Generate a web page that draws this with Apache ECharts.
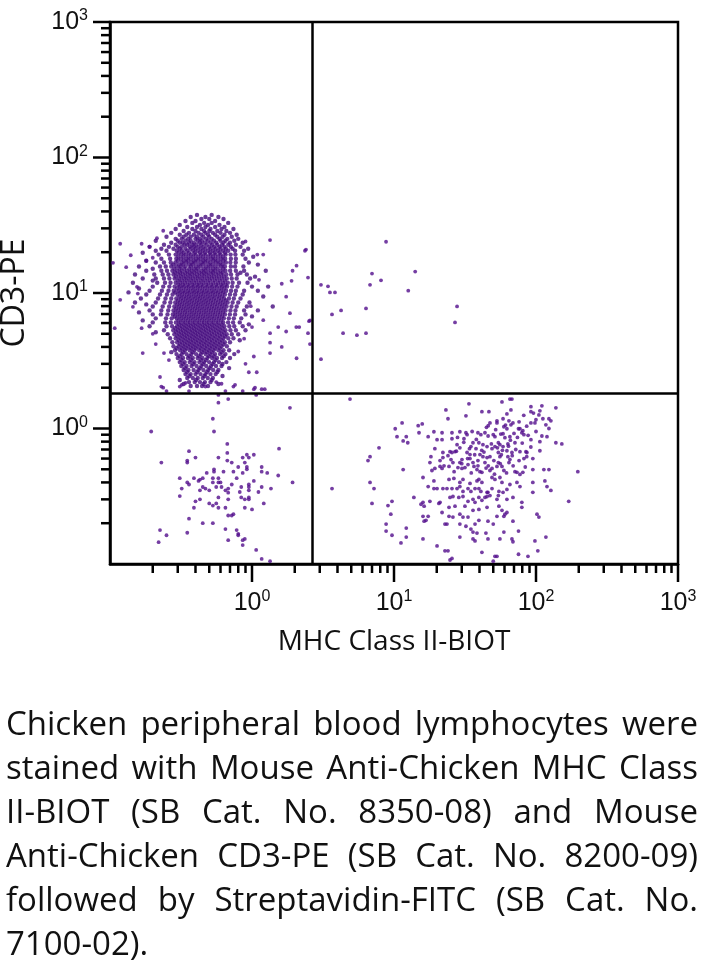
<!DOCTYPE html>
<html>
<head>
<meta charset="utf-8">
<script src="https://cdn.jsdelivr.net/npm/echarts@6/dist/echarts.min.js"></script>
<style>
html,body{margin:0;padding:0;background:#fff;}
#chart{position:absolute;left:0;top:0;width:707px;height:969px;}
#caption{position:absolute;left:6px;top:701px;width:692px;font-family:'Open Sans',sans-serif;font-size:33px;line-height:44px;color:#111;z-index:2;}
#caption .j{text-align:justify;text-align-last:justify;}
#caption .l{text-align:left;}
</style>
</head>
<body>
<div id="chart"></div>
<div id="caption">
<div class="j">Chicken peripheral blood lymphocytes were</div>
<div class="j">stained with Mouse Anti-Chicken MHC Class</div>
<div class="j">II-BIOT (SB Cat. No. 8350-08) and Mouse</div>
<div class="j">Anti-Chicken CD3-PE (SB Cat. No. 8200-09)</div>
<div class="j">followed by Streptavidin-FITC (SB Cat. No.</div>
<div class="l">7100-02).</div>
</div>
<script>
// ---------- axes ----------
const xAxisTitle = 'MHC Class II-BIOT';
const yAxisTitle = 'CD3-PE';
const axisMin = 0.1;
const axisMax = 1000;
const decades = [0.1, 1, 10, 100];
const minorMultipliers = [2, 3, 4, 5, 6, 7, 8, 9];
const majorTickValues = [1, 10, 100, 1000];

// ---------- quadrant gates ----------
const gateX = 2.65;
const gateY = 1.82;

// ---------- CD3+ MHC II- population (upper left), read row by row: CD3-PE level of each row ----------
const ulRowCD3 = [37.7,36.4,35.2,34.0,32.9,31.8,30.7,29.7,28.7,27.8,26.9,26.0,25.1,24.3,23.5,22.7,21.9,21.2,
20.5,19.8,19.2,18.5,17.9,17.3,16.8,16.2,15.7,15.1,14.6,14.1,13.7,13.2,12.8,12.35,11.9,11.5,11.15,10.8,10.4,10.1,
9.75,9.43,9.11,8.81,8.52,8.24,7.96,7.70,7.44,7.19,6.95,6.72,6.50,6.28,6.07,5.87,5.68,5.49,5.31,5.13,4.96,4.79,4.63,4.48,4.33,4.19,4.05,3.91,
3.78,3.66,3.54,3.42,3.31,3.20,3.09,2.99,2.89,2.79,2.70,2.61,2.52,2.44,2.36,2.28,2.20,2.13,2.06];
// MHC Class II-BIOT values of the events in each of those rows
const ulRowMHC = [
[0.41,0.52],
[0.37,0.47,0.58],
[0.44,0.50,0.63],
[0.34,0.40,0.55],
[0.38,0.46,0.52,0.68],
[0.31,0.43,0.49,0.59],
[0.35,0.41,0.47,0.55,0.64],
[0.29,0.38,0.44,0.51,0.61,0.74],
[0.33,0.40,0.46,0.50,0.57,0.66],
[0.27,0.36,0.42,0.47,0.53,0.60,0.70],
[0.31,0.345,0.39,0.44,0.49,0.55,0.64,0.78],
[0.25,0.33,0.37,0.41,0.455,0.50,0.57,0.62,0.72],
[0.29,0.32,0.355,0.40,0.43,0.475,0.52,0.59,0.67,0.80],
[0.21,0.30,0.34,0.37,0.415,0.445,0.49,0.54,0.60,0.65,0.75],
[0.27,0.31,0.325,0.36,0.39,0.43,0.465,0.51,0.56,0.63,0.70,0.86],
[0.24,0.29,0.335,0.35,0.38,0.405,0.44,0.48,0.525,0.57,0.615,0.68,0.77],
[0.19,0.26,0.30,0.32,0.365,0.39,0.42,0.455,0.50,0.54,0.59,0.64,0.71,0.83],
[0.23,0.28,0.31,0.34,0.37,0.40,0.435,0.47,0.51,0.555,0.60,0.655,0.73,0.94],
[0.21,0.25,0.295,0.32,0.35,0.385,0.415,0.45,0.49,0.53,0.575,0.625,0.68,0.76,0.88],
[0.305,0.33,0.36,0.395,0.43,0.465,0.505,0.545,0.59,0.645,0.17],
[0.22,0.26,0.29,0.318,0.342,0.372,0.401,0.437,0.471,0.512,0.553,0.601,0.652,0.707,0.764,0.86],
[0.303,0.329,0.357,0.386,0.419,0.452,0.492,0.531,0.577,0.624,1.02],
[0.23,0.265,0.293,0.316,0.345,0.37,0.404,0.434,0.47,0.515,0.55,0.604,0.648,0.71,0.77,0.90],
[0.301,0.331,0.355,0.389,0.417,0.455,0.488,0.535,0.574,0.628,0.18],
[0.21,0.24,0.268,0.289,0.32,0.344,0.374,0.398,0.44,0.468,0.509,0.556,0.598,0.655,0.704,0.768,0.95],
[0.279,0.306,0.327,0.36,0.383,0.421,0.45,0.495,0.528,0.581,0.62,1.1],
[0.16,0.225,0.247,0.27,0.294,0.315,0.34,0.371,0.403,0.433,0.474,0.51,0.552,0.605,0.645,0.71,0.76,0.87],
[0.284,0.309,0.333,0.362,0.39,0.416,0.457,0.49,0.533,0.572,0.627,0.20],
[0.18,0.23,0.252,0.275,0.297,0.32,0.348,0.376,0.405,0.44,0.47,0.514,0.549,0.6,0.65,0.702,0.77,0.88,1.25],
[0.288,0.312,0.338,0.364,0.392,0.425,0.458,0.493,0.532,0.578,0.622,0.83],
[0.15,0.205,0.235,0.258,0.28,0.303,0.326,0.353,0.379,0.41,0.444,0.478,0.518,0.56,0.607,0.66,0.712,0.79,0.92],
[0.292,0.317,0.341,0.368,0.398,0.427,0.462,0.5,0.54,0.585,0.635,1.05],
[0.17,0.21,0.24,0.262,0.285,0.308,0.333,0.357,0.384,0.415,0.447,0.484,0.522,0.565,0.612,0.665,0.72,0.78,0.97],
[0.3,0.322,0.347,0.374,0.403,0.436,0.469,0.506,0.548,0.593,0.643,0.2],
[0.145,0.215,0.244,0.267,0.29,0.313,0.337,0.364,0.392,0.422,0.455,0.492,0.533,0.577,0.624,0.676,0.73,0.81,0.93],
[0.303,0.326,0.352,0.38,0.41,0.44,0.476,0.515,0.558,0.603,0.65],
[0.2,0.237,0.262,0.285,0.31,0.333,0.359,0.387,0.417,0.45,0.486,0.525,0.567,0.616,0.668,0.724,0.79,1.0,1.3],
[0.296,0.318,0.344,0.371,0.399,0.43,0.465,0.503,0.543,0.59,0.637,0.16],
[0.19,0.232,0.258,0.281,0.305,0.329,0.355,0.383,0.412,0.445,0.48,0.52,0.561,0.608,0.658,0.712,0.77,0.88,1.1],
[0.289,0.313,0.337,0.363,0.392,0.422,0.456,0.493,0.533,0.577,0.626,0.135],
[0.18,0.225,0.252,0.276,0.299,0.322,0.348,0.375,0.405,0.437,0.471,0.509,0.55,0.595,0.645,0.7,0.76,0.86],
[0.309,0.333,0.359,0.388,0.418,0.45,0.487,0.527,0.57,0.616,1.2],
[0.165,0.218,0.246,0.27,0.293,0.317,0.342,0.369,0.398,0.429,0.464,0.501,0.541,0.586,0.635,0.688,0.745,0.83],
[0.302,0.326,0.352,0.379,0.41,0.442,0.477,0.515,0.557,0.603,0.653],
[0.15,0.21,0.242,0.266,0.288,0.311,0.336,0.362,0.391,0.421,0.455,0.491,0.531,0.575,0.622,0.674,0.73,0.8,0.96],
[0.298,0.321,0.347,0.374,0.404,0.435,0.47,0.508,0.549,0.594,0.643,0.18],
[0.2,0.235,0.261,0.284,0.307,0.331,0.357,0.385,0.415,0.448,0.484,0.523,0.565,0.612,0.662,0.717,0.78,0.92,1.4],
[0.293,0.316,0.341,0.368,0.397,0.428,0.462,0.499,0.539,0.583,0.631],
[0.19,0.23,0.257,0.28,0.302,0.326,0.351,0.379,0.409,0.441,0.476,0.514,0.556,0.601,0.651,0.705,0.765,0.88,1.1],
[0.289,0.312,0.337,0.364,0.392,0.423,0.457,0.493,0.533,0.577,0.624,0.16],
[0.2,0.228,0.254,0.277,0.299,0.322,0.347,0.375,0.404,0.436,0.471,0.509,0.55,0.595,0.645,0.699,0.76,0.9],
[0.286,0.309,0.333,0.359,0.387,0.418,0.451,0.487,0.526,0.569,0.616,1.0],
[0.21,0.248,0.272,0.295,0.318,0.343,0.37,0.399,0.43,0.464,0.501,0.541,0.586,0.634,0.687,0.745,0.84],
[0.304,0.328,0.354,0.382,0.412,0.445,0.48,0.518,0.56,0.606,0.17],
[0.2,0.245,0.268,0.291,0.314,0.339,0.365,0.394,0.425,0.459,0.495,0.535,0.579,0.627,0.679,0.736,0.82],
[0.306,0.33,0.356,0.384,0.414,0.447,0.482,0.521,0.563,0.61,0.95],
[0.19,0.25,0.274,0.297,0.32,0.345,0.372,0.401,0.433,0.467,0.504,0.545,0.59,0.639,0.692,0.75,0.86],
[0.289,0.312,0.336,0.362,0.39,0.421,0.454,0.49,0.529,0.572,0.619],
[0.24,0.279,0.302,0.326,0.351,0.379,0.408,0.44,0.475,0.513,0.555,0.6,0.65,0.705,0.77,0.9],
[0.293,0.317,0.342,0.369,0.398,0.429,0.463,0.5,0.54,0.584,0.632,0.21],
[0.255,0.284,0.308,0.332,0.358,0.386,0.416,0.449,0.485,0.524,0.567,0.613,0.664,0.72,0.8],
[0.299,0.323,0.348,0.376,0.405,0.437,0.472,0.51,0.551,0.596,0.645],
[0.265,0.29,0.314,0.339,0.366,0.395,0.426,0.46,0.497,0.537,0.581,0.629,0.681,0.74],
[0.305,0.33,0.356,0.384,0.414,0.447,0.483,0.522,0.565,0.611,0.82],
[0.275,0.297,0.321,0.347,0.374,0.404,0.436,0.471,0.509,0.55,0.595,0.644,0.7],
[0.312,0.337,0.364,0.393,0.425,0.459,0.496,0.536,0.58,0.628],
[0.28,0.304,0.329,0.355,0.383,0.413,0.446,0.482,0.521,0.563,0.61,0.665],
[0.295,0.32,0.345,0.373,0.402,0.435,0.47,0.508,0.549,0.594],
[0.287,0.312,0.337,0.364,0.393,0.425,0.459,0.496,0.536,0.58,0.63,0.69],
[0.328,0.382,0.447,0.483,0.522,0.612,0.27],
[0.294,0.32,0.346,0.374,0.404,0.436,0.471,0.509,0.55,0.596,0.65,0.75],
[0.31,0.363,0.425,0.497,0.537,0.632],
[0.3,0.327,0.354,0.383,0.414,0.448,0.485,0.524,0.567,0.615,0.7],
[0.318,0.373,0.437,0.473,0.553],
[0.31,0.336,0.364,0.394,0.426,0.461,0.499,0.54,0.585,0.66],
[0.327,0.385,0.451,0.528,0.62],
[0.318,0.346,0.375,0.407,0.44,0.476,0.515,0.558,0.61],
[0.338,0.43,0.504,0.69],
[0.33,0.357,0.388,0.42,0.455,0.492,0.533,0.58],
[0.349,0.411,0.482,0.57],
[0.34,0.37,0.4,0.434,0.47,0.51,0.555],
[0.362,0.462,0.62],
[0.35,0.383,0.415,0.45,0.488,0.53],
[0.31,0.404,0.52],
[0.36,0.395,0.43,0.466,0.51],
[0.33,0.456,0.58],
[0.37,0.41,0.445,0.49]
];
// events near the gate and scattered around the upper-left population
const upperLeftSparse = [
[0.23,2.04],[0.25,1.89],[0.31,2.04],[0.32,2.1],[0.34,2.17],[0.47,2.04],[0.56,2.2],[0.61,2.14],[0.36,1.89],[0.65,1.89],
[0.74,2.04],[0.76,2.1],[0.86,1.89],[1.03,1.95],[1.17,1.95],[1.23,1.95],
[0.118,23.1],[0.167,23.1],[0.105,16.7],[0.13,15.5],[0.214,25.4],[0.237,28.8],[1.34,24.6],[2.40,20.9],[2.06,15.9],[1.93,14.6],
[1.90,12.3],[1.62,11.7],[1.74,9.4],[1.20,19.2],[1.09,19.2],[2.48,13.0],[0.155,11.1],[0.157,9.9],[0.20,18.2],[0.18,17.3],
[1.85,7.1],[0.108,5.5],[0.118,8.9],[0.145,7.9],[0.167,5.5],[0.17,3.6],[0.225,2.4],[0.237,2.0],[2.36,20.5],[1.53,5.6],
[1.74,5.2],[2.05,5.6],[2.15,5.6],[2.52,6.2],[2.56,4.2],[2.48,5.05],[1.62,4.0],[1.34,3.6],[2.06,3.3],[1.05,2.0],
[0.95,2.6],[1.08,2.6],[1.03,3.4],[1.34,4.3],[1.34,5.05],[0.2,5.0],[0.26,3.2],[0.9,3.0],[1.2,6.3],[2.56,6.28],
[0.21,4.2],[0.24,3.6],[0.8,3.7],[0.88,4.6],[1.0,5.6],[0.98,8.0],[1.12,12.5],[0.14,19.0],[0.19,22.0],[0.9,24.0]
];

// ---------- CD3+ MHC II+ (upper right) ----------
const upperRight = [
[8.79,23.9],[7.0,13.9],[6.78,11.5],[8.1,12.4],[14.1,14.4],[12.6,10.4],[27.8,7.96],[26.9,6.07],[3.06,11.5],[3.43,11.2],
[3.54,10.1],[3.84,10.1],[4.24,7.44],[3.66,6.95],[6.35,7.7],[4.38,5.05],[5.48,4.88],[6.35,5.05],[3.06,3.25]
];

// ---------- CD3- MHC II- (lower left) ----------
const lowerLeft = [
[0.58,1.77],[0.58,1.55],[0.68,1.65],[1.07,1.77],[1.85,1.42],[0.53,1.18],[0.54,0.95],[0.195,0.95],[0.67,0.77],[0.67,0.66],
[0.36,0.68],[1.55,0.71],[0.23,0.56],[0.35,0.58],[0.35,0.56],[0.40,0.61],[0.58,0.61],[0.67,0.58],[0.72,0.56],[0.80,0.52],
[0.86,0.61],[0.92,0.64],[1.03,0.64],[0.95,0.61],[0.89,0.56],[0.92,0.52],[0.92,0.50],[1.17,0.52],[1.17,0.48],[1.28,0.47],
[0.54,0.50],[0.54,0.48],[0.48,0.47],[0.63,0.48],[0.74,0.48],[0.86,0.47],[0.31,0.43],[0.39,0.43],[0.42,0.41],[0.43,0.42],
[0.45,0.43],[0.53,0.43],[0.58,0.43],[0.78,0.43],[1.03,0.41],[1.53,0.45],[1.93,0.40],[0.35,0.40],[0.36,0.386],[0.32,0.36],
[0.45,0.37],[0.47,0.36],[0.43,0.35],[0.50,0.35],[0.53,0.40],[0.56,0.37],[0.58,0.40],[0.60,0.40],[0.61,0.37],[0.65,0.35],
[0.68,0.36],[0.72,0.386],[0.84,0.37],[0.95,0.386],[0.95,0.37],[1.17,0.37],[1.36,0.36],[0.68,0.336],[0.82,0.34],[0.95,0.35],
[1.11,0.34],[0.31,0.317],[0.40,0.29],[0.43,0.30],[0.58,0.31],[0.68,0.30],[0.84,0.31],[0.89,0.30],[0.95,0.31],[0.95,0.30],
[1.21,0.28],[0.50,0.28],[0.53,0.27],[0.56,0.28],[0.39,0.26],[0.58,0.26],[0.65,0.26],[0.89,0.26],[1.0,0.253],[0.68,0.228],
[0.72,0.228],[0.74,0.233],[0.36,0.216],[0.45,0.20],[0.53,0.20],[0.65,0.181],[0.78,0.178],[0.80,0.167],[0.80,0.163],[0.89,0.153],
[0.86,0.15],[0.68,0.15],[0.86,0.138],[0.35,0.17],[0.225,0.178],[0.25,0.163],[0.22,0.145],[1.07,0.127],[1.17,0.109],[1.34,0.105]
];

// ---------- CD3- MHC II+ (lower right) ----------
const lowerRight = [
[4.9,1.65],[3.66,0.36],
[65.5,1.65],[67.7,1.65],[33.7,1.52],[57.6,1.57],[92.1,1.45],[110,1.47],[138,1.42],[23.2,1.37],[41.6,1.33],[46.6,1.33],
[62.4,1.28],[66.6,1.37],[32.1,1.24],[24.0,1.18],[53.1,1.14],[58.6,1.18],[64.5,1.14],[92.1,1.33],[106.5,1.35],[104.8,1.26],
[99.9,1.16],[111.8,1.18],[123.3,1.18],[127.3,1.14],[11.4,1.10],[14.8,1.05],[15.8,1.08],[10.2,0.996],[47.4,1.10],[53.1,1.10],
[66.6,1.065],[68.8,1.10],[98.3,1.10],[92.1,1.10],[117.4,1.065],[123.3,1.0],[59.4,1.03],[62.4,0.996],[75.3,0.996],[77.1,0.996],
[80.8,0.963],[46.1,1.05],[19.1,0.946],[21.8,0.93],[25.6,0.93],[29.1,0.946],[32.1,0.93],[32.7,0.90],[39.0,0.93],[40.9,0.90],
[43.7,0.93],[50.0,0.90],[51.4,0.87],[58.6,0.915],[60.4,0.855],[65.5,0.87],[79.5,0.93],[82.2,0.90],[15.0,0.93],[10.5,0.87],
[11.6,0.81],[12.5,0.785],[12.2,0.87],[17.4,0.87],[20.1,0.827],[21.8,0.827],[25.6,0.84],[31.1,0.84],[36.0,0.785],[39.6,0.785],
[42.3,0.76],[54.3,0.785],[55.7,0.76],[63.4,0.77],[71.1,0.785],[92.1,0.827],[106.5,0.80],[119.5,0.87],[138,0.785],[152,0.77],
[7.84,0.72],[27.8,0.76],[29.1,0.72],[34.8,0.735],[37.8,0.71],[45.2,0.735],[49.0,0.71],[51.4,0.735],[58.6,0.735],[62.4,0.685],
[67.7,0.665],[77.1,0.675],[84.9,0.675],[86.3,0.665],[106.5,0.685],[24.8,0.675],[25.6,0.665],[19.4,0.71],[22.1,0.665],[26.9,0.675],
[32.7,0.665],[34.3,0.642],[40.3,0.642],[42.3,0.62],[45.2,0.61],[47.4,0.62],[54.3,0.665],[55.7,0.62],[63.4,0.62],[65.5,0.59],
[82.2,0.60],[6.78,0.62],[6.56,0.58],[18.2,0.62],[21.1,0.58],[22.1,0.61],[25.2,0.59],[26.0,0.56],[30.1,0.59],[29.1,0.56],
[34.3,0.60],[36.0,0.56],[39.0,0.58],[43.7,0.56],[46.1,0.53],[54.3,0.56],[64.5,0.56],[95.0,0.498],[113.6,0.498],[123.3,0.498],
[17.9,0.56],[11.6,0.498],[18.5,0.49],[19.4,0.507],[21.1,0.525],[21.8,0.507],[24.4,0.525],[28.2,0.515],[30.1,0.507],[31.6,0.515],
[33.2,0.542],[36.6,0.525],[38.4,0.498],[40.3,0.48],[41.6,0.475],[47.4,0.49],[49.0,0.507],[53.1,0.525],[57.6,0.525],[59.4,0.49],
[71.1,0.48],[73.4,0.475],[77.1,0.458],[80.8,0.475],[95.0,0.40],[115.5,0.41],[197,0.48],[16.0,0.435],[19.1,0.41],[24.4,0.421],
[26.4,0.428],[29.1,0.40],[30.6,0.421],[34.3,0.393],[38.4,0.41],[39.6,0.421],[41.6,0.40],[49.0,0.435],[51.4,0.421],[55.7,0.435],
[57.6,0.40],[65.5,0.386],[73.4,0.40],[77.1,0.373],[62.4,0.355],[6.78,0.40],[7.23,0.36],[17.4,0.373],[19.1,0.36],[20.1,0.36],
[22.1,0.36],[23.6,0.36],[25.6,0.36],[27.8,0.36],[29.1,0.373],[30.6,0.343],[33.2,0.36],[34.8,0.343],[37.2,0.36],[39.6,0.36],
[40.9,0.343],[45.2,0.338],[47.4,0.32],[49.0,0.36],[54.8,0.343],[58.6,0.338],[68.8,0.31],[79.5,0.285],[79.5,0.262],[95.0,0.338],
[119.5,0.373],[127.3,0.349],[13.8,0.31],[17.9,0.29],[21.1,0.285],[24.8,0.31],[26.0,0.315],[28.6,0.31],[30.6,0.315],[33.2,0.29],
[36.0,0.30],[37.2,0.285],[39.6,0.31],[41.6,0.295],[43.7,0.31],[45.2,0.315],[45.9,0.338],[53.1,0.30],[54.3,0.32],[62.4,0.30],
[9.07,0.27],[9.68,0.29],[7.0,0.28],[15.5,0.276],[16.0,0.285],[16.3,0.267],[20.7,0.28],[24.4,0.262],[26.9,0.267],[31.6,0.267],
[36.0,0.249],[39.6,0.253],[45.2,0.262],[54.8,0.267],[57.6,0.249],[60.4,0.233],[62.4,0.24],[170,0.29],[9.5,0.233],[16.0,0.225],
[17.4,0.225],[21.8,0.24],[24.4,0.225],[26.0,0.222],[29.1,0.233],[30.6,0.222],[33.2,0.222],[39.6,0.21],[45.9,0.207],[53.1,0.225],
[59.4,0.225],[68.8,0.207],[101.6,0.233],[104.8,0.222],[22.85,0.197],[23.6,0.197],[29.1,0.197],[32.1,0.19],[37.2,0.197],[50.0,0.197],
[8.8,0.197],[8.8,0.175],[9.68,0.163],[12.2,0.184],[12.2,0.158],[16.3,0.207],[16.8,0.21],[34.8,0.181],[36.0,0.172],[38.4,0.169],
[44.4,0.169],[59.4,0.172],[75.3,0.175],[29.1,0.158],[36.0,0.153],[37.2,0.148],[45.9,0.153],[55.7,0.153],[67.7,0.153],[68.8,0.146],
[98.3,0.148],[117.4,0.158],[11.2,0.143],[16.0,0.153],[20.1,0.136],[22.85,0.125],[24.0,0.125],[41.6,0.122],[75.3,0.118],[87.8,0.114],
[103,0.125],[51.4,0.114],[53.1,0.114],[25.6,0.11],[24.8,0.107],[50.0,0.105],
[35.5,0.95],[44.8,1.02],[52.0,0.98],[61.0,1.06],[70.0,0.92],[76.0,1.12],[86.0,1.04],[38.0,0.83],[46.0,0.88],[56.5,0.91],
[66.0,0.82],[74.0,0.86],[88.0,0.89],[28.0,0.86],[31.0,0.79],[34.0,0.71],[41.5,0.69],[48.5,0.77],[53.5,0.72],[58.0,0.69],
[64.0,0.74],[72.0,0.70],[80.0,0.78],[92.0,0.73],[24.0,0.63],[27.5,0.68],[33.0,0.60],[37.0,0.64],[43.0,0.67],[50.5,0.58],
[57.0,0.64],[68.0,0.63],[76.0,0.58],[86.0,0.62],[22.5,0.53],[26.5,0.48],[30.0,0.55],[35.0,0.47],[39.0,0.53],[44.5,0.51],
[51.0,0.46],[56.0,0.55],[62.0,0.47],[69.0,0.53],[84.0,0.52],[95.0,0.60],[100,0.95],[110,0.88],[82.0,1.25],[96.0,1.30]
];

// ---------- styling ----------
const dotColor = '#520e8c';
const denseColor = '#450b7e';
const dotSize = 3.8;
const denseDotSize = 4.4;
const tickFont = "'Liberation Sans',Arial,sans-serif";
const titleFont = "'Open Sans','Noto Sans',sans-serif";

// build the upper-left event table from its rows
const upperLeftRows = [];
ulRowMHC.forEach((row, i) => row.forEach(x => upperLeftRows.push([x, ulRowCD3[i]])));
const otherEvents = [].concat(upperLeftSparse, upperRight, lowerLeft, lowerRight);

const chart = echarts.init(document.getElementById('chart'), null, {renderer: 'canvas'});

function powLabel(v) {
  const e = Math.round(Math.log10(v));
  if (e < 0) return '';
  return '{b|10}{s|' + e + '}';
}
const richStyle = {
  b: {fontFamily: tickFont, fontSize: 25, lineHeight: 28, color: '#111'},
  s: {fontFamily: tickFont, fontSize: 16, lineHeight: 14, verticalAlign: 'top', color: '#111'}
};

const option = {
  animation: false,
  backgroundColor: '#fff',
  grid: {left: 110, right: 29, top: 22, bottom: 969 - 564, containLabel: false, outerBoundsMode: 'none',
         show: true, borderColor: '#000', borderWidth: 2.5, backgroundColor: 'transparent'},
  xAxis: {
    type: 'log', logBase: 10, min: axisMin, max: axisMax,
    axisLine: {show: true, lineStyle: {color: '#000', width: 2.5}},
    axisTick: {show: false},
    splitLine: {show: false},
    axisLabel: {formatter: powLabel, margin: 25, rich: richStyle},
    name: xAxisTitle, nameLocation: 'middle', nameGap: 64,
    nameTextStyle: {fontFamily: titleFont, fontSize: 28, color: '#111'}
  },
  yAxis: {
    type: 'log', logBase: 10, min: axisMin, max: axisMax,
    axisLine: {show: true, lineStyle: {color: '#000', width: 2.5}},
    axisTick: {show: false},
    splitLine: {show: false},
    axisLabel: {formatter: powLabel, margin: 22, rich: richStyle},
    name: yAxisTitle, nameLocation: 'middle', nameGap: 79,
    nameTextStyle: {fontFamily: titleFont, fontSize: 32, color: '#111'}
  },
  series: [{
    type: 'scatter',
    data: upperLeftRows,
    symbol: 'circle',
    symbolSize: denseDotSize,
    itemStyle: {color: denseColor},
    silent: true
  }, {
    type: 'scatter',
    data: otherEvents,
    symbol: 'circle',
    symbolSize: dotSize,
    itemStyle: {color: dotColor},
    silent: true,
    markLine: {
      silent: true,
      symbol: ['none', 'none'],
      label: {show: false},
      lineStyle: {color: '#000', width: 2.5, type: 'solid'},
      data: [{xAxis: gateX}, {yAxis: gateY}]
    }
  }]
};
chart.setOption(option);

// log-scale tick marks (decade majors, 2..9 minors) placed through the axis scales
const xLeft = chart.convertToPixel({xAxisIndex: 0}, axisMin);
const yBottom = chart.convertToPixel({yAxisIndex: 0}, axisMin);
const tickEls = [];
const addTick = (v, major) => {
  const px = chart.convertToPixel({xAxisIndex: 0}, v);
  const py = chart.convertToPixel({yAxisIndex: 0}, v);
  const lx = major ? 18 : 9;
  const ly = major ? 17 : 9;
  tickEls.push({type: 'line', silent: true, shape: {x1: px, y1: yBottom, x2: px, y2: yBottom + lx}, style: {stroke: '#000', lineWidth: 2.5}});
  tickEls.push({type: 'line', silent: true, shape: {x1: xLeft - ly, y1: py, x2: xLeft, y2: py}, style: {stroke: '#000', lineWidth: 2.5}});
};
decades.forEach(d => minorMultipliers.forEach(m => addTick(d * m, false)));
majorTickValues.forEach(v => addTick(v, true));
chart.setOption({graphic: {elements: tickEls}});
</script>
</body>
</html>
